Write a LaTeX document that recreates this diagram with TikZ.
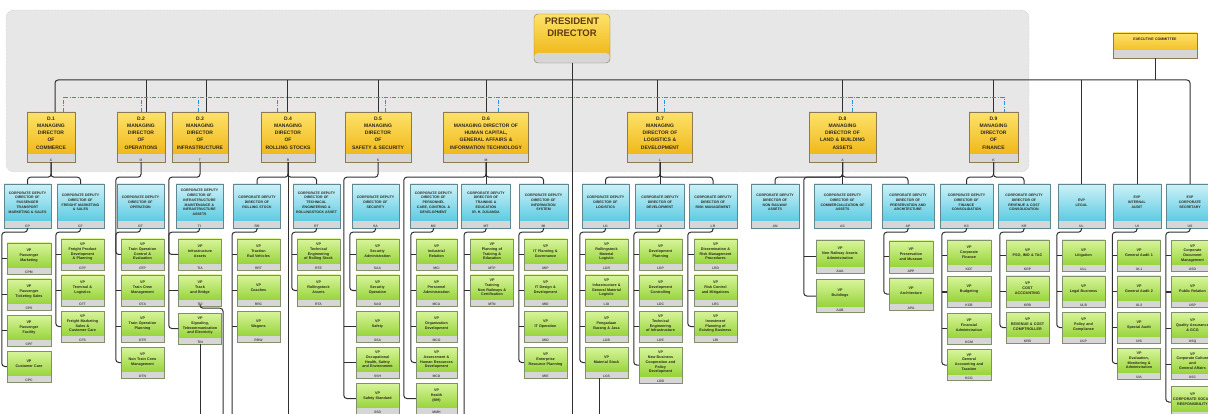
\documentclass[tikz,border=0pt]{standalone}
\usepackage{fontspec}
\setmainfont{Liberation Sans}
\usetikzlibrary{positioning}

\definecolor{panelgray}{RGB}{231,231,231}
\definecolor{goldtop}{RGB}{253,226,105}
\definecolor{goldbot}{RGB}{238,176,12}
\definecolor{goldedge}{RGB}{140,122,85}
\definecolor{cyantop}{RGB}{205,241,248}
\definecolor{cyanbot}{RGB}{72,196,222}
\definecolor{cyanedge}{RGB}{95,135,145}
\definecolor{greentop}{RGB}{216,245,155}
\definecolor{greenbot}{RGB}{136,204,36}
\definecolor{greenedge}{RGB}{128,145,105}
\definecolor{stripgray}{RGB}{214,214,214}
\definecolor{linkgray}{RGB}{48,48,48}
\definecolor{dashblue}{RGB}{35,150,215}
\definecolor{inkdark}{RGB}{45,40,30}
\definecolor{presbrown}{RGB}{95,60,15}

\begin{document}
\begin{tikzpicture}[x=1pt,y=-1pt,node distance=36pt,
    code strip/.style={path picture={\fill[stripgray] (path picture bounding box.south west) rectangle ([yshift=#1]path picture bounding box.south east);}},
    text lift/.style={execute at end node={\\[#1]\mbox{}}},
    unit label/.style={anchor=south,inner sep=0.7pt,text=black!70,font=\bfseries\fontsize{3.4}{3.4}\selectfont},
    unit code/.style={label={[unit label]south:#1}},
    md node/.style={draw=goldedge,top color=goldtop,bottom color=goldbot,minimum height=50pt,align=center,inner sep=1pt,code strip=8pt,text lift=0.8pt,text=inkdark,font=\bfseries\fontsize{5}{7.2}\selectfont},
    cd node/.style={draw=cyanedge,top color=cyantop,bottom color=cyanbot,text width=46pt,minimum height=44pt,align=center,inner sep=0.5pt,code strip=7pt,text lift=2.2pt,text=inkdark,font=\bfseries\fontsize{3.5}{4.8}\selectfont},
    vp node/.style={draw=greenedge,top color=greentop,bottom color=greenbot,text width=42pt,minimum height=31pt,align=center,inner sep=0.5pt,code strip=6pt,text lift=1.2pt,text=inkdark,font=\bfseries\fontsize{3.7}{4.8}\selectfont},
    link/.style={draw=linkgray,line width=1pt,rounded corners=3pt},
    dash link/.style={draw=dashblue,line width=0.9pt,dash pattern=on 4pt off 1.5pt on 1pt off 1.5pt}]

    \useasboundingbox (0,0) rectangle (1208,414);
    \clip (0,0) rectangle (1208,414);

    % board panel
    \draw[fill=panelgray,draw=gray!60,densely dotted,rounded corners=8pt] (6,10) rectangle (1029,172);

    % top level
    \node[md node,rounded corners=4pt,text width=74pt,minimum height=49pt,code strip=10pt,text lift=-2pt,text=presbrown,font=\bfseries\fontsize{9.5}{12}\selectfont] (pres) at (572,38.5) {PRESIDENT\\DIRECTOR};
    \node[md node,text width=82pt,minimum height=25pt,text lift=3.7pt,font=\bfseries\fontsize{3.6}{4.3}\selectfont] (exec) at (1155,45.5) {EXECUTIVE COMMITTEE};

    % managing directors
    \node[md node,text width=46pt,unit code=C] (d1) at (51,137) {D.1\\MANAGING\\DIRECTOR\\OF\\COMMERCE};
    \node[md node,text width=46pt,unit code=O] (d2) at (141,137) {D.2\\MANAGING\\DIRECTOR\\OF\\OPERATIONS};
    \node[md node,text width=54pt,unit code=T] (d3) at (200,137) {D.3\\MANAGING\\DIRECTOR\\OF\\INFRASTRUCTURE};
    \node[md node,text width=52pt,unit code=R] (d4) at (288,137) {D.4\\MANAGING\\DIRECTOR\\OF\\ROLLING STOCKS};
    \node[md node,text width=64pt,unit code=S] (d5) at (378,137) {D.5\\MANAGING\\DIRECTOR\\OF\\SAFETY \& SECURITY};
    \node[md node,text width=83pt,unit code=M] (d6) at (486,137) {D.6\\MANAGING DIRECTOR OF\\HUMAN CAPITAL,\\GENERAL AFFAIRS \&\\INFORMATION TECHNOLOGY};
    \node[md node,text width=63pt,unit code=L] (d7) at (660,137) {D.7\\MANAGING\\DIRECTOR OF\\LOGISTICS \&\\DEVELOPMENT};
    \node[md node,text width=65pt,unit code=A] (d8) at (842.5,137) {D.8\\MANAGING\\DIRECTOR OF\\LAND \& BUILDING\\ASSETS};
    \node[md node,text width=47pt,unit code=K] (d9) at (993.5,137) {D.9\\MANAGING\\DIRECTOR\\OF\\FINANCE};

    % corporate deputy directors and EVPs
    \node[cd node,unit code=CP] (cp) at (27.5,206) {CORPORATE DEPUTY\\DIRECTOR OF\\PASSENGER\\TRANSPORT\\MARKETING \& SALES};
    \node[cd node,unit code=CF] (cf) at (80.5,206) {CORPORATE DEPUTY\\DIRECTOR OF\\FREIGHT MARKETING\\\& SALES};
    \node[cd node,unit code=OT] (ot) at (140.5,206) {CORPORATE DEPUTY\\DIRECTOR OF\\OPERATION};
    \node[cd node,unit code=TI] (ti) at (199.5,206) {CORPORATE DEPUTY\\DIRECTOR OF\\INFRASTRUCTURE\\MAINTENANCE \&\\INFRASTRUCTURE\\ASSETS};
    \node[cd node,unit code=RR] (rr) at (257,206) {CORPORATE DEPUTY\\DIRECTOR OF\\ROLLING STOCK};
    \node[cd node,unit code=RT] (rt) at (316.5,206) {CORPORATE DEPUTY\\DIRECTOR OF\\TECHNICAL\\ENGINEERING \&\\ROLLINGSTOCK ASSET};
    \node[cd node,unit code=SA] (sk) at (375.5,206) {CORPORATE DEPUTY\\DIRECTOR OF\\SECURITY};
    \node[cd node,unit code=MC] (mc) at (433.5,206) {CORPORATE DEPUTY\\DIRECTOR OF\\PERSONNEL\\CARE, CONTROL \&\\DEVELOPMENT};
    \node[cd node,text width=48pt,unit code=MT] (mt) at (486,206) {CORPORATE DEPUTY\\DIRECTOR OF\\TRAINING \&\\EDUCATION\\IR. H. DJUANDA};
    \node[cd node,text width=48pt,unit code=MI] (mi) at (543.5,206) {CORPORATE DEPUTY\\DIRECTOR OF\\INFORMATION\\SYSTEM};
    \node[cd node,unit code=LG] (lg) at (605.5,206) {CORPORATE DEPUTY\\DIRECTOR OF\\LOGISTICS};
    \node[cd node,text width=48pt,unit code=LD] (ld) at (660,206) {CORPORATE DEPUTY\\DIRECTOR OF\\DEVELOPMENT};
    \node[cd node,text width=47pt,unit code=LR] (lr) at (713,206) {CORPORATE DEPUTY\\DIRECTOR OF\\RISK MANAGEMENT};
    \node[cd node,text width=47pt,unit code=AN] (an) at (775,206) {CORPORATE DEPUTY\\DIRECTOR OF\\NON RAILWAY\\ASSETS};
    \node[cd node,text width=56pt,unit code=AC] (ac) at (842.5,206) {CORPORATE DEPUTY\\DIRECTOR OF\\COMMERCIALIZATION OF\\ASSETS};
    \node[cd node,text width=51pt,unit code=AP] (ap) at (908,206) {CORPORATE DEPUTY\\DIRECTOR OF\\PRESERVATION AND\\ARCHITECTURE};
    \node[cd node,text width=52pt,unit code=KC] (kc) at (966.5,206) {CORPORATE DEPUTY\\DIRECTOR OF\\FINANCE\\CONSOLIDATION};
    \node[cd node,text width=51pt,unit code=KR] (kr) at (1024,206) {CORPORATE DEPUTY\\DIRECTOR OF\\REVENUE \& COST\\CONSOLIDATION};
    \node[cd node,unit code=UL] (ul) at (1081.5,206) {EVP\\LEGAL};
    \node[cd node,text width=47pt,unit code=UI] (ui) at (1137,206) {EVP\\INTERNAL\\AUDIT};
    \node[cd node,text width=47pt,unit code=US] (us) at (1190,206) {EVP\\CORPORATE\\SECRETARY};

    % vice presidents
    \node[vp node,text width=43pt,unit code=CPM] (cpm) at (29,258.5) {VP\\Passenger\\Marketing};
    \node[vp node,text width=43pt,unit code=CPS] (cps) [below of=cpm] {VP\\Passenger\\Ticketing Sales};
    \node[vp node,text width=43pt,unit code=CPF] (cpf) [below of=cps] {VP\\Passenger\\Facility};
    \node[vp node,text width=43pt,unit code=CPC] (cpc) [below of=cpf] {VP\\Customer Care};

    \node[vp node,unit code=CFP] (cfp) at (82.5,254.5) {VP\\Freight Product\\Development\\\& Planning};
    \node[vp node,unit code=CFT] (cft) [below of=cfp] {VP\\Terminal \&\\Logistics};
    \node[vp node,unit code=CFS] (cfs) [below of=cft] {VP\\Freight Marketing\\Sales \&\\Customer Care};

    \node[vp node,unit code=OTP] (otp) at (142.5,254.5) {VP\\Train Operation\\Control \&\\Evaluation};
    \node[vp node,unit code=OTA] (ota) [below of=otp] {VP\\Train Crew\\Management};
    \node[vp node,unit code=OTR] (otr) [below of=ota] {VP\\Train Operation\\Planning};
    \node[vp node,unit code=OTN] (otn) [below of=otr] {VP\\Non Train Crew\\Management};

    \node[vp node,unit code=TIA] (tia) at (200,254.5) {VP\\Infrastructure\\Assets};
    \node[vp node,unit code=TIJ] (tij) [below of=tia] {VP\\Track\\and Bridge};
    \node[vp node,unit code=TIN] (tin) [below of=tij,node distance=38pt] {VP\\Signaling,\\Telecommunication\\and Electricity};

    \node[vp node,unit code=RRT] (rrt) at (258.5,254.5) {VP\\Traction\\Rail Vehicles};
    \node[vp node,unit code=RRC] (rrc) [below of=rrt] {VP\\Coaches};
    \node[vp node,unit code=RRW] (rrw) [below of=rrc] {VP\\Wagons};

    \node[vp node,unit code=RTE] (rte) at (318.5,254.5) {VP\\Technical\\Engineering\\of Rolling Stock};
    \node[vp node,unit code=RTA] (rta) [below of=rte] {VP\\Rollingstock\\Assets};

    \node[vp node,unit code=SAA] (ska) at (377.5,254.5) {VP\\Security\\Administration};
    \node[vp node,unit code=SAO] (sko) [below of=ska] {VP\\Security\\Operation};
    \node[vp node,unit code=SSA] (sks) [below of=sko] {VP\\Safety};
    \node[vp node,unit code=SSH] (skh) [below of=sks] {VP\\Occupational\\Health, Safety\\and Environment};
    \node[vp node,unit code=SSD] (skd) [below of=skh] {VP\\Safety Standard};

    \node[vp node,text width=40pt,unit code=MCI] (mci) at (436.5,254.5) {VP\\Industrial\\Relation};
    \node[vp node,text width=40pt,unit code=MCA] (mca) [below of=mci] {VP\\Personnel\\Administration};
    \node[vp node,text width=40pt,unit code=MCO] (mco) [below of=mca] {VP\\Organization\\Development};
    \node[vp node,text width=40pt,unit code=MCD] (mcd) [below of=mco] {VP\\Assessment \&\\Human Resources\\Development};
    \node[vp node,text width=40pt,unit code=MMH] (mmh) [below of=mcd] {VP\\Health\\(MH)};

    \node[vp node,unit code=MTP] (mtp) at (492,254.5) {VP\\Planning of\\Training \&\\Education};
    \node[vp node,unit code=MTN] (mtn) [below of=mtp] {VP\\Training\\Non Railways \&\\Certification};

    \node[vp node,unit code=MIP] (mip) at (545.5,254.5) {VP\\IT Planning \&\\Governance};
    \node[vp node,unit code=MID] (mid) [below of=mip] {VP\\IT Design \&\\Development};
    \node[vp node,unit code=MIO] (mio) [below of=mid] {VP\\IT Operation};
    \node[vp node,unit code=MIE] (mie) [below of=mio] {VP\\Enterprise\\Resource Planning};

    \node[vp node,unit code=LGR] (lgr) at (606.5,254.5) {VP\\Rollingstock\\Material\\Logistic};
    \node[vp node,unit code=LGI] (lgi) [below of=lgr] {VP\\Infrastructure \&\\General Material\\Logistic};
    \node[vp node,unit code=LGB] (lgb) [below of=lgi] {VP\\Pengadaan\\Barang \& Jasa};
    \node[vp node,unit code=LGS] (lgs) [below of=lgb] {VP\\Material Stock};

    \node[vp node,unit code=LDP] (ldp) at (660.5,254.5) {VP\\Development\\Planning};
    \node[vp node,unit code=LDC] (ldc) [below of=ldp] {VP\\Development\\Controlling};
    \node[vp node,unit code=LDE] (lde) [below of=ldc] {VP\\Technical\\Engineering\\of Infrastructure};
    \node[vp node,minimum height=36pt,unit code=LDB] (ldb) [below of=lde,node distance=38.5pt] {VP\\New Business\\Cooperation and\\Policy\\Development};

    \node[vp node,unit code=LRD] (lrd) at (715.5,254.5) {VP\\Dissemination \&\\Risk Management\\Procedures};
    \node[vp node,unit code=LRC] (lrc) [below of=lrd] {VP\\Risk Control\\and Mitigations};
    \node[vp node,unit code=LRI] (lri) [below of=lrc] {VP\\Investment\\Planning of\\Existing Business};

    \node[vp node,text width=47pt,minimum height=33pt,unit code=AAA] (aaa) at (840,256.5) {VP\\Non Railway Assets\\Administration};
    \node[vp node,text width=47pt,minimum height=33pt,unit code=AAB] (aab) [below of=aaa,node distance=39.5pt] {VP\\Buildings};

    \node[vp node,text width=43pt,minimum height=32pt,unit code=APP] (app) at (911,257) {VP\\Preservation\\and Museum};
    \node[vp node,text width=43pt,minimum height=32pt,unit code=APA] (apa) [below of=app,node distance=37pt] {VP\\Architecture};

    \node[vp node,text width=43pt,unit code=KCF] (kcf) at (969,255.5) {VP\\Corporate\\Finance};
    \node[vp node,text width=43pt,unit code=KCB] (kcb) [below of=kcf,node distance=36.5pt] {VP\\Budgeting};
    \node[vp node,text width=43pt,unit code=KCM] (kcm) [below of=kcb,node distance=36.5pt] {VP\\Financial\\Administration};
    \node[vp node,text width=43pt,unit code=KCG] (kcg) [below of=kcm,node distance=36.5pt] {VP\\General\\Accounting and\\Taxation};

    \node[vp node,unit code=KRP] (krp) at (1027.5,255.5) {VP\\PSO, IMO \& TAC};
    \node[vp node,unit code=KRB] (krb) [below of=krp] {VP\\COST\\ACCOUNTING};
    \node[vp node,unit code=KRR] (krr) [below of=krb] {VP\\REVENUE \& COST\\COMPTROLLER};

    \node[vp node,unit code=ULL] (ull) at (1083.5,255.5) {VP\\Litigation};
    \node[vp node,unit code=ULB] (ulb) [below of=ull] {VP\\Legal Business};
    \node[vp node,unit code=ULP] (ulp) [below of=ulb] {VP\\Policy and\\Compliance};

    \node[vp node,unit code=UI-1] (ui1) at (1139,255.5) {VP\\General Audit 1};
    \node[vp node,unit code=UI-2] (ui2) [below of=ui1] {VP\\General Audit 2};
    \node[vp node,unit code=UIS] (uis) [below of=ui2] {VP\\Special Audit};
    \node[vp node,unit code=UIA] (uia) [below of=uis] {VP\\Evaluation,\\Monitoring \&\\Administration};

    \node[vp node,unit code=USD] (usd) at (1192.5,256) {VP\\Corporate\\Document\\Management};
    \node[vp node,unit code=USP] (usp) [below of=usd] {VP\\Public Relation};
    \node[vp node,unit code=USQ] (usq) [below of=usp] {VP\\Quality Assurance\\\& GCG};
    \node[vp node,unit code=USC] (usc) [below of=usq] {VP\\Corporate Culture\\and\\General Affairs};
    \node[vp node] (usr) [below of=usc,node distance=38pt] {VP\\CORPORATE SOCIAL\\RESPONSIBILITY};

    % ends running off the sheet
    \coordinate (bus) at (1155,80);
    \coordinate (dashl) at (63,97);
    \coordinate (tiend) at (200,414);
    \coordinate (tjend) at (223,414);
    \coordinate (rrend) at (232,414);
    \coordinate (d4end) at (288,414);
    \coordinate (mtend) at (464,414);
    \coordinate (presend) at (572,414);
    \coordinate (lgend) at (599,414);

    % board lines
    \draw[link] (pres.south) -- (presend);
    \draw[link] ([xshift=4pt]d1.north) |- (bus) -| (us.north);
    \draw[link] (exec.south) -- (bus);
    \foreach \d/\s in {d2/5pt,d3/6pt,d4/-1pt,d5/0pt,d6/0pt,d7/-3pt,d8/0pt,d9/0pt}
        \draw[link] ([xshift=\s]\d.north) -- ++(0,-32);
    \draw[link] (ul.north) -- ++(0,-104);
    \draw[link] (ui.north) -- ++(0,-104);

    \draw[dash link] ([xshift=12pt]d1.north) -- (dashl) -| ([xshift=10.5pt]d9.north);
    \foreach \d/\s in {d2/0pt,d3/-2pt,d4/-11pt,d5/7pt,d6/12pt,d7/4pt,d8/10pt}
        \draw[dash link] ([xshift=\s]\d.north) -- ++(0,-15);

    % directors to deputies
    \draw[link] (d1.south) -- ++(0,15) -| (cp.north);
    \draw[link] (d1.south) -- ++(0,15) -| (cf.north);
    \draw[link] (d2.south) -- ++(0,15) -| ([xshift=-5pt]otn.west) -- (otn.west);
    \draw[link] (d3.south) -- ++(0,15) -| ([xshift=-9.5pt]tin.west) -- (tin.west);
    \draw[link] (d4.south) -- (d4end);
    \draw[link] (d4.south) -- ++(0,15) -| (rr.north);
    \draw[link] (d4.south) -- ++(0,15) -| (rt.north);
    \draw[link] (d5.south) -- ++(0,15) -| ([xshift=-12pt]skd.west) -- (skd.west);
    \draw[link] (d6.south) -- ++(0,15) -| ([xshift=-12pt]mmh.west) -- (mmh.west);
    \draw[link] (d6.south) -- (mt.north);
    \draw[link] (d6.south) -- ++(0,15) -| (mi.north);
    \draw[link] (d7.south) -- ++(0,15) -| (lg.north);
    \draw[link] (d7.south) -- (ld.north);
    \draw[link] (d7.south) -- ++(0,15) -| (lr.north);
    \draw[link] (d8.south) -- ++(0,15) -| (an.north);
    \draw[link] (d8.south) -- (ac.north);
    \draw[link] (d8.south) -- ++(0,15) -| (ap.north);
    \draw[link] (d8.south) -- ++(0,15) -| ([xshift=-12pt]aab.west) -- (aab.west);
    \draw[link] (d9.south) -- ++(0,15) -| (kc.north);
    \draw[link] (d9.south) -- ++(0,15) -| (kr.north);

    % deputies to vice presidents
    \draw[link] (cp.south) -- ++(0,4) -| ([xshift=-5pt]cpc.west) -- (cpc.west);
    \draw[link] (cf.south) -- ++(0,4) -| ([xshift=-5pt]cfs.west) -- (cfs.west);
    \draw[link] (ot.south) -- ++(0,4) -| ([xshift=-5pt]otp.west) -- (otp.west);
    \draw[link] (ti.south) -- ++(0,4) -| ([xshift=-9.5pt]tia.west) -- (tia.west);
    \draw[link] (rr.south) -- ++(0,4) -| (rrend);
    \draw[link] (rt.south) -- ++(0,4) -| ([xshift=-5pt]rta.west) -- (rta.west);
    \draw[link] (sk.south) -- ++(0,4) -| ([xshift=-6pt]sko.west) -- (sko.west);
    \draw[link] (mc.south) -- ++(0,4) -| ([xshift=-5pt]mcd.west) -- (mcd.west);
    \draw[link] (mt.south) -- ++(0,4) -| (mtend);
    \draw[link] (mi.south) -- ++(0,4) -| ([xshift=-5pt]mie.west) -- (mie.west);
    \draw[link] (lg.south) -- ++(0,4) -| ([xshift=-5pt]lgs.west) -- (lgs.west);
    \draw[link] (ld.south) -- ++(0,4) -| ([xshift=-5pt]ldb.west) -- (ldb.west);
    \draw[link] (lr.south) -- ++(0,4) -| ([xshift=-6pt]lri.west) -- (lri.west);
    \draw[link] (ap.south) -- ++(0,4) -| ([xshift=-5pt]apa.west) -- (apa.west);
    \draw[link] (kc.south) -- ++(0,4) -| ([xshift=-5pt]kcg.west) -- (kcg.west);
    \draw[link] (kr.south) -- ++(0,4) -| ([xshift=-6pt]krr.west) -- (krr.west);
    \draw[link] (ul.south) -- ++(0,4) -| ([xshift=-5pt]ulp.west) -- (ulp.west);
    \draw[link] (ui.south) -- ++(0,4) -| ([xshift=-5pt]uia.west) -- (uia.west);
    \draw[link] (us.south) -- ++(0,4) -| ([xshift=-5pt]usr.west) -- (usr.west);
    \foreach \v/\s in {cpm/5pt,cps/5pt,cpf/5pt,cfp/5pt,cft/5pt,ota/5pt,otr/5pt,tij/9.5pt,
                       rrt/5pt,rrc/5pt,rrw/5pt,rte/5pt,ska/6pt,sks/12pt,skh/12pt,
                       mci/5pt,mca/5pt,mco/5pt,mtp/6.5pt,mtn/6.5pt,mip/5pt,mid/5pt,mio/5pt,
                       lgr/5pt,lgi/5pt,lgb/5pt,ldp/5pt,ldc/5pt,lde/5pt,lrd/6pt,lrc/6pt,
                       aaa/12pt,app/5pt,kcf/5pt,kcb/5pt,kcm/5pt,krp/6pt,krb/6pt,
                       ull/5pt,ulb/5pt,ui1/5pt,ui2/5pt,uis/5pt,usd/5pt,usp/5pt,usq/5pt,usc/5pt}
        \draw[link] ([xshift=-\s]\v.west) -- (\v.west);

    \draw[link] (tin.south) -- (tiend);
    \draw[link] (tij.south) -- ++(0,2) -| (tjend);
    \draw[link] (lgs.south -| lgend) -- (lgend);
\end{tikzpicture}
\end{document}
